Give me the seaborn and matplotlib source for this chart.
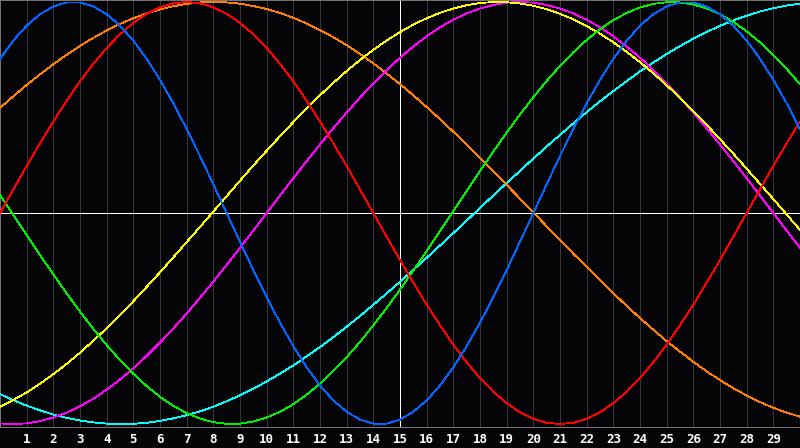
import numpy as np
import pandas as pd
import matplotlib
matplotlib.use("Agg")
import matplotlib.pyplot as plt
import seaborn as sns

# sample positions (every half day from day 0 to day 30)
days = np.arange(0, 30.5, 0.5)
tick_days = list(range(1, 30))
tick_labels = [str(d) for d in tick_days]
today = 15

physical = [0.731, 0.817, 0.888, 0.942, 0.979, 0.998, 0.998, 0.979, 0.942, 0.888,
            0.817, 0.731, 0.631, 0.520, 0.398, 0.270, 0.136, 0.000, -0.136, -0.270,
            -0.398, -0.520, -0.631, -0.731, -0.817, -0.888, -0.942, -0.979, -0.998, -0.998,
            -0.979, -0.942, -0.888, -0.817, -0.731, -0.631, -0.520, -0.398, -0.270, -0.136,
            0.000, 0.136, 0.270, 0.398, 0.520, 0.631, 0.731, 0.817, 0.888, 0.942,
            0.979, 0.998, 0.998, 0.979, 0.942, 0.888, 0.817, 0.731, 0.631, 0.520, 0.398]
emotional = [0.000, 0.112, 0.223, 0.330, 0.434, 0.532, 0.624, 0.707, 0.782, 0.847,
             0.901, 0.944, 0.975, 0.994, 1.000, 0.994, 0.975, 0.944, 0.901, 0.847,
             0.782, 0.707, 0.624, 0.532, 0.434, 0.330, 0.223, 0.112, 0.000, -0.112,
             -0.223, -0.330, -0.434, -0.532, -0.624, -0.707, -0.782, -0.847, -0.901, -0.944,
             -0.975, -0.994, -1.000, -0.994, -0.975, -0.944, -0.901, -0.847, -0.782, -0.707,
             -0.624, -0.532, -0.434, -0.330, -0.223, -0.112, 0.000, 0.112, 0.223, 0.330, 0.434]
intellectual = [0.086, -0.010, -0.105, -0.199, -0.291, -0.381, -0.467, -0.549, -0.626, -0.697,
                -0.762, -0.820, -0.871, -0.914, -0.948, -0.974, -0.991, -0.999, -0.998, -0.988,
                -0.969, -0.942, -0.906, -0.861, -0.809, -0.749, -0.683, -0.611, -0.532, -0.450,
                -0.363, -0.273, -0.180, -0.085, 0.010, 0.105, 0.199, 0.291, 0.381, 0.467,
                0.549, 0.626, 0.697, 0.762, 0.820, 0.871, 0.914, 0.948, 0.974, 0.991,
                0.999, 0.998, 0.988, 0.969, 0.942, 0.906, 0.861, 0.809, 0.749, 0.683, 0.611]
intuitive = [-0.997, -1.000, -0.997, -0.986, -0.969, -0.946, -0.916, -0.880, -0.837, -0.789,
             -0.736, -0.677, -0.614, -0.547, -0.476, -0.402, -0.325, -0.246, -0.165, -0.083,
             0.000, 0.083, 0.165, 0.246, 0.325, 0.402, 0.476, 0.547, 0.614, 0.677,
             0.736, 0.789, 0.837, 0.880, 0.916, 0.946, 0.969, 0.986, 0.997, 1.000,
             0.997, 0.986, 0.969, 0.946, 0.916, 0.880, 0.837, 0.789, 0.736, 0.677,
             0.614, 0.547, 0.476, 0.402, 0.325, 0.246, 0.165, 0.083, 0.000, -0.083, -0.165]
aesthetic = [-0.918, -0.886, -0.850, -0.809, -0.764, -0.715, -0.662, -0.605, -0.546, -0.483,
             -0.418, -0.350, -0.281, -0.210, -0.138, -0.066, 0.007, 0.080, 0.153, 0.225,
             0.295, 0.364, 0.431, 0.496, 0.558, 0.617, 0.673, 0.725, 0.773, 0.818,
             0.857, 0.893, 0.923, 0.949, 0.969, 0.985, 0.995, 1.000, 0.999, 0.993,
             0.982, 0.966, 0.944, 0.918, 0.886, 0.850, 0.809, 0.764, 0.715, 0.662,
             0.605, 0.546, 0.483, 0.418, 0.350, 0.281, 0.210, 0.138, 0.066, -0.007, -0.080]
awareness = [0.498, 0.553, 0.607, 0.657, 0.705, 0.750, 0.792, 0.830, 0.865, 0.896,
             0.923, 0.946, 0.965, 0.980, 0.991, 0.998, 1.000, 0.998, 0.992, 0.981,
             0.967, 0.948, 0.925, 0.898, 0.867, 0.833, 0.795, 0.754, 0.709, 0.661,
             0.611, 0.558, 0.502, 0.445, 0.385, 0.324, 0.261, 0.198, 0.133, 0.068,
             0.003, -0.063, -0.128, -0.193, -0.256, -0.319, -0.380, -0.440, -0.498, -0.553,
             -0.607, -0.657, -0.705, -0.750, -0.792, -0.830, -0.865, -0.896, -0.923, -0.946, -0.965]
spiritual = [-0.858, -0.887, -0.913, -0.935, -0.955, -0.971, -0.983, -0.992, -0.998, -1.000,
             -0.999, -0.994, -0.985, -0.973, -0.958, -0.940, -0.918, -0.892, -0.864, -0.833,
             -0.798, -0.761, -0.722, -0.679, -0.635, -0.588, -0.539, -0.488, -0.435, -0.381,
             -0.326, -0.269, -0.212, -0.154, -0.095, -0.036, 0.024, 0.083, 0.142, 0.200,
             0.258, 0.315, 0.370, 0.425, 0.478, 0.529, 0.578, 0.625, 0.671, 0.713,
             0.754, 0.791, 0.826, 0.858, 0.887, 0.913, 0.935, 0.955, 0.971, 0.983, 0.992]

series = {
    "Spiritual": spiritual,
    "Awareness": awareness,
    "Intuitive": intuitive,
    "Aesthetic": aesthetic,
    "Intellectual": intellectual,
    "Emotional": emotional,
    "Physical": physical,
}
colors = {
    "Spiritual": "#00ffff",
    "Awareness": "#ff8000",
    "Intuitive": "#ff00ff",
    "Aesthetic": "#ffff00",
    "Intellectual": "#00ee00",
    "Emotional": "#ff0000",
    "Physical": "#0066ff",
}

rows = []
for name, vals in series.items():
    for d, v in zip(days, vals):
        rows.append({"day": d, "value": v, "cycle": name})
df = pd.DataFrame(rows)

bg = "#050508"
sns.set_theme(style="dark")
plt.rcParams["font.family"] = ["DejaVu Sans Mono", "DejaVu Sans"]

fig = plt.figure(figsize=(8, 4.48), dpi=100, facecolor=bg)
ax = fig.add_axes([0, 21 / 448, 1, 427 / 448])
ax.set_facecolor(bg)

for d in tick_days:
    ax.axvline(d, color="#37373b", lw=0.5, zorder=1, antialiased=False)
ax.axvline(today, color="#ffffff", lw=0.5, zorder=2, antialiased=False)
ax.axhline(0, color="#ffffff", lw=0.5, zorder=2, antialiased=False)

sns.lineplot(data=df, x="day", y="value", hue="cycle", palette=colors,
             estimator=None, sort=False, linewidth=0.6, legend=False, ax=ax,
             zorder=3, antialiased=False)

ax.set_xlim(0, 30)
ax.set_ylim(-1.014, 1.0095)
ax.set_xticks(tick_days)
ax.set_xticklabels(tick_labels, color="white", fontsize=9, fontweight="bold")
ax.set_yticks([])
ax.tick_params(axis="x", length=0, pad=4)
ax.set_xlabel("")
ax.set_ylabel("")
ax.grid(False)
for s in ax.spines.values():
    s.set_visible(True)
    s.set_color("#8a8a8a")
    s.set_linewidth(0.6)

fig.savefig("out.png", dpi=100, facecolor=bg)
